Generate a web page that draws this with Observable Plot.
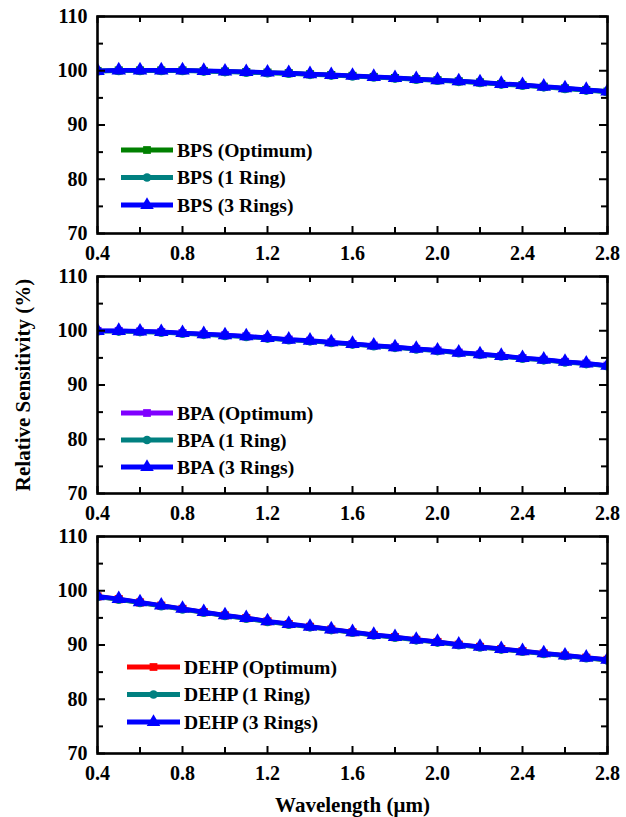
<!DOCTYPE html>
<html><head><meta charset="utf-8">
<script src="https://cdn.jsdelivr.net/npm/d3@7"></script>
<script src="https://cdn.jsdelivr.net/npm/@observablehq/plot@0.6"></script>
<style>
body{margin:0;background:#fff;}
#chart{width:626px;}
#chart svg{display:block;overflow:visible;}
</style></head><body><div id="chart"></div>
<script>
const wavelength = [0.4,0.5,0.6,0.7,0.8,0.9,1.0,1.1,1.2,1.3,1.4,1.5,1.6,1.7,1.8,1.9,2.0,2.1,2.2,2.3,2.4,2.5,2.6,2.7,2.8];

const bpsOptimum = [99.95,100.05,100.05,100.05,100.05,99.95,99.85,99.75,99.65,99.55,99.35,99.2,99.05,98.85,98.65,98.45,98.25,98.05,97.85,97.55,97.35,97.05,96.75,96.45,96.15];
const bps1Ring   = [99.9,100.0,100.0,100.0,100.0,99.9,99.8,99.7,99.6,99.5,99.3,99.15,99.0,98.8,98.6,98.4,98.2,98.0,97.8,97.5,97.3,97.0,96.7,96.4,96.1];
const bps3Rings  = [100.0,100.1,100.1,100.1,100.1,100.0,99.9,99.8,99.7,99.6,99.4,99.25,99.1,98.9,98.7,98.5,98.3,98.1,97.9,97.6,97.4,97.1,96.8,96.5,96.2];

const bpaOptimum = [99.95,99.95,99.85,99.75,99.55,99.35,99.15,98.95,98.65,98.35,98.15,97.85,97.55,97.25,96.95,96.65,96.35,95.95,95.65,95.35,94.95,94.65,94.25,93.95,93.55];
const bpa1Ring   = [99.9,99.9,99.8,99.7,99.5,99.3,99.1,98.9,98.6,98.3,98.1,97.8,97.5,97.2,96.9,96.6,96.3,95.9,95.6,95.3,94.9,94.6,94.2,93.9,93.5];
const bpa3Rings  = [100.0,100.0,99.9,99.8,99.6,99.4,99.2,99.0,98.7,98.4,98.2,97.9,97.6,97.3,97.0,96.7,96.4,96.0,95.7,95.4,95.0,94.7,94.3,94.0,93.6];

const dehpOptimum = [98.95,98.45,97.85,97.25,96.65,96.05,95.45,94.95,94.35,93.85,93.35,92.85,92.35,91.85,91.45,90.95,90.55,90.05,89.65,89.25,88.85,88.45,88.05,87.65,87.25];
const dehp1Ring   = [98.9,98.4,97.8,97.2,96.6,96.0,95.4,94.9,94.3,93.8,93.3,92.8,92.3,91.8,91.4,90.9,90.5,90.0,89.6,89.2,88.8,88.4,88.0,87.6,87.2];
const dehp3Rings  = [99.0,98.5,97.9,97.3,96.7,96.1,95.5,95.0,94.4,93.9,93.4,92.9,92.4,91.9,91.5,91.0,90.6,90.1,89.7,89.3,88.9,88.5,88.1,87.7,87.3];

const xMajorTicks = [0.4,0.8,1.2,1.6,2.0,2.4,2.8];
const xMinorTicks = [0.6,1.0,1.4,1.8,2.2,2.6];
const yMajorTicks = [70,80,90,100,110];
const yMinorTicks = [75,85,95,105];

const bpsNames  = ["BPS (Optimum)","BPS (1 Ring)","BPS (3 Rings)"];
const bpaNames  = ["BPA (Optimum)","BPA (1 Ring)","BPA (3 Rings)"];
const dehpNames = ["DEHP (Optimum)","DEHP (1 Ring)","DEHP (3 Rings)"];

const yTitle = "Relative Sensitivity (%)";
const xTitle = "Wavelength (μm)";

const FONT = "'Liberation Serif','Times New Roman',serif";
const plotSymbols = ["square","circle","triangle"];
const d3Symbols = [d3.symbolSquare, d3.symbolCircle, d3.symbolTriangle];

function legendMark(names, colors, opt) {
  return (index, scales, values, dims) => {
    const g = d3.create("svg:g");
    names.forEach((name, i) => {
      const y = opt.top + i * opt.gap;
      const x0 = opt.left, x1 = opt.left + opt.len;
      g.append("line").attr("x1", x0).attr("x2", x1).attr("y1", y).attr("y2", y)
        .attr("stroke", colors[i]).attr("stroke-width", 5);
      g.append("path").attr("d", d3.symbol(d3Symbols[i], i === 2 ? 80 : 60)())
        .attr("transform", `translate(${(x0 + x1) / 2},${y})`).attr("fill", colors[i]);
      g.append("text").attr("x", x1 + 4).attr("y", y).attr("dy", "0.35em")
        .attr("text-anchor", "start")
        .attr("font-family", FONT).attr("font-weight", "bold").attr("font-size", 19.6)
        .attr("fill", "#000").text(name);
    });
    return g.node();
  };
}

function panel({series, colors, names, legend, height, marginBottom, yLabel, xLabel}) {
  const mt = 16, ml = 97, mr = 19;
  const H = height - mt - marginBottom, W = 626 - ml - mr;
  const marks = [];
  series.forEach((vals, i) => {
    const rows = wavelength.map((w, j) => ({w, v: vals[j]}));
    marks.push(Plot.line(rows, {x: "w", y: "v", stroke: colors[i], strokeWidth: 4.5, clip: true}));
    marks.push(Plot.dot(rows, {x: "w", y: "v", fill: colors[i], symbol: plotSymbols[i], r: i === 2 ? 5.4 : 4.6, clip: true}));
  });
  // inward ticks on all four sides
  marks.push(Plot.tickX(xMajorTicks, {x: d => d, insetTop: H - 7, stroke: "#000", strokeWidth: 2}));
  marks.push(Plot.tickX(xMinorTicks, {x: d => d, insetTop: H - 6, stroke: "#000", strokeWidth: 2}));
  marks.push(Plot.tickX(xMajorTicks, {x: d => d, insetBottom: H - 7, stroke: "#000", strokeWidth: 2}));
  marks.push(Plot.tickX(xMinorTicks, {x: d => d, insetBottom: H - 6, stroke: "#000", strokeWidth: 2}));
  marks.push(Plot.tickY(yMajorTicks, {y: d => d, insetRight: W - 8, stroke: "#000", strokeWidth: 2}));
  marks.push(Plot.tickY(yMinorTicks, {y: d => d, insetRight: W - 6, stroke: "#000", strokeWidth: 2}));
  marks.push(Plot.tickY(yMajorTicks, {y: d => d, insetLeft: W - 8, stroke: "#000", strokeWidth: 2}));
  marks.push(Plot.tickY(yMinorTicks, {y: d => d, insetLeft: W - 6, stroke: "#000", strokeWidth: 2}));
  marks.push(Plot.frame({stroke: "#000", strokeWidth: 2.6}));
  marks.push(Plot.axisX(xMajorTicks, {tickSize: 0, tickPadding: 12, tickFormat: d => d.toFixed(1),
    fontSize: 20, fontWeight: "bold", fill: "#000", label: null}));
  marks.push(Plot.axisY(yMajorTicks, {tickSize: 0, tickPadding: 10,
    fontSize: 20, fontWeight: "bold", fill: "#000", label: null}));
  if (yLabel) marks.push(Plot.text([yLabel], {text: d => d, frameAnchor: "left", rotate: -90, dx: -74,
    fontSize: 21, fontWeight: "bold", fill: "#000", textAnchor: "middle", lineAnchor: "middle"}));
  if (xLabel) marks.push(Plot.text([xLabel], {text: d => d, frameAnchor: "bottom", dy: 52,
    fontSize: 21, fontWeight: "bold", fill: "#000", textAnchor: "middle", lineAnchor: "middle"}));
  marks.push(legendMark(names, colors, legend));
  return Plot.plot({
    width: 626, height, marginTop: mt, marginLeft: ml, marginRight: mr, marginBottom,
    style: {fontFamily: FONT, fontWeight: "bold", fontSize: "20px", color: "#000", background: "#fff", overflow: "visible"},
    x: {domain: [0.4, 2.8]},
    y: {domain: [70, 110]},
    marks
  });
}

const chart = document.getElementById("chart");
chart.append(panel({
  series: [bpsOptimum, bps1Ring, bps3Rings], colors: ["#008000", "#008080", "#0000ff"], names: bpsNames,
  legend: {left: 121, len: 52, top: 150, gap: 27.5}, height: 260, marginBottom: 27
}));
chart.append(panel({
  series: [bpaOptimum, bpa1Ring, bpa3Rings], colors: ["#8000ff", "#008080", "#0000ff"], names: bpaNames,
  legend: {left: 121, len: 52, top: 153, gap: 27}, height: 260, marginBottom: 27, yLabel: yTitle
}));
chart.append(panel({
  series: [dehpOptimum, dehp1Ring, dehp3Rings], colors: ["#ff0000", "#008080", "#0000ff"], names: dehpNames,
  legend: {left: 127, len: 53, top: 147, gap: 27.5}, height: 297, marginBottom: 64, xLabel: xTitle
}));
</script>
</body></html>
